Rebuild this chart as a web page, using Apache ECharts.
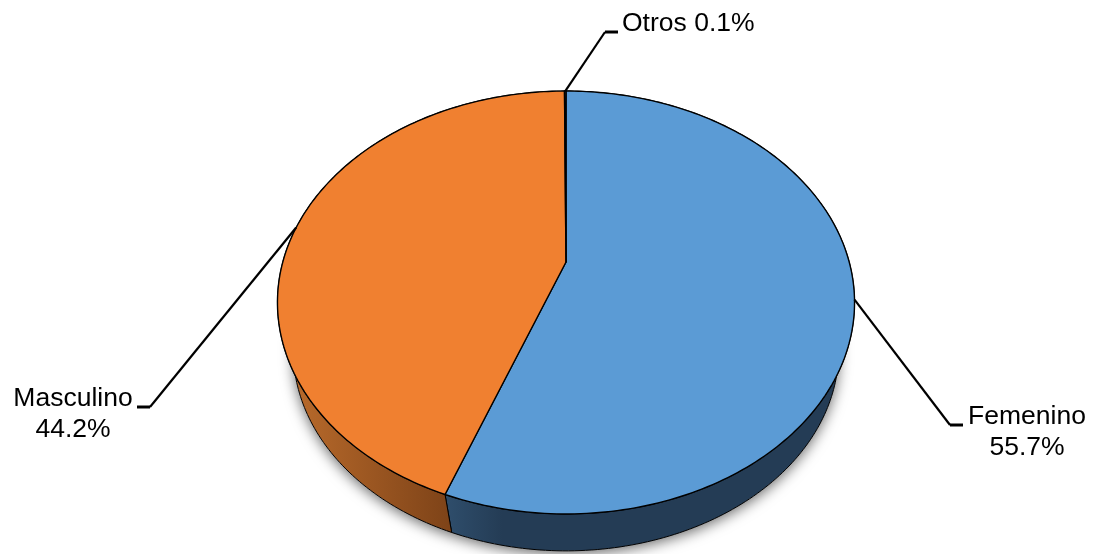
<!DOCTYPE html>
<html>
<head>
<meta charset="utf-8">
<title>Sexo</title>
<script src="https://cdn.jsdelivr.net/npm/echarts@6/dist/echarts.min.js"></script>
<style>
  html, body { margin: 0; background: #fff; }
  #chart { width: 1093px; height: 554px; }
</style>
</head>
<body>
<div id="chart"></div>
<script>
const categories = ['Femenino', 'Masculino', 'Otros']
const values = [55.7, 44.2, 0.1]

const topColors = ['#5B9BD5', '#F08030', '#A5A5A5']
const wallStops = [
    [[0, '#2F4E6C'], [0.5, '#243C55'], [1, '#243C55']],
    [[0, '#B86A2B'], [1, '#7E4318']],
    [[0, '#666666'], [1, '#666666']],
]
const wallRanges = [[445, 560], [293, 450], [560, 570]]

// label layout: elbow of the leader, end of the leader, text anchor
const labelLayout = [
    { elbow: [950, 425], end: [963, 425], text: [1027, 432.5], align: 'center', split: true },
    { elbow: [150, 407], end: [137, 407], text: [73, 414], align: 'center', split: true },
    { elbow: [605, 32], end: [618, 32], text: [622, 24], align: 'left', split: false },
]

// perspective disc: the centre of the pie is not the centre of the ellipse
const apex = [566, 262]
const discW = 283.2
const discH = 203.7
const persp = -0.1915
const wallScale = 0.945
const vanishY = 1185

function rim(deg, lower) {
    const t = deg * Math.PI / 180
    const u = Math.sin(t)
    const v = -Math.cos(t)
    const k = 1 + persp * v
    const x = apex[0] + discW * u / k
    const y = apex[1] + discH * v / k
    if (!lower) return [x, y]
    return [apex[0] + (x - apex[0]) * wallScale, vanishY + (y - vanishY) * wallScale]
}

function arc(from, to, lower) {
    const steps = Math.max(2, Math.ceil(Math.abs(to - from)))
    const pts = []
    for (let i = 0; i <= steps; i++) {
        pts.push(rim(from + (to - from) * i / steps, lower))
    }
    return pts
}

const total = values.reduce((a, b) => a + b, 0)
const spans = []
let acc = 0
values.forEach((v) => {
    spans.push([acc / total * 360, (acc + v) / total * 360])
    acc += v
})

const seriesData = values.map((v, i) => ({ name: categories[i], value: v }))

function renderWall(params) {
    const i = params.dataIndex
    const [from, to] = spans[i]
    const children = []
    if (i === 0) {
        children.push({
            type: 'polygon',
            shape: { points: arc(0, 360, true) },
            style: { fill: '#fff', shadowBlur: 14, shadowColor: 'rgba(0,0,0,0.6)', shadowOffsetY: 3 },
        })
    }
    children.push({
        type: 'polygon',
        shape: { points: arc(from, to, false).concat(arc(from, to, true).reverse()) },
        style: {
            fill: new echarts.graphic.LinearGradient(wallRanges[i][0], 0, wallRanges[i][1], 0, wallStops[i].map((s) => ({ offset: s[0], color: s[1] })), true),
            stroke: '#000',
            lineWidth: 1,
            lineJoin: 'round',
        },
    })
    return { type: 'group', children }
}

function renderTop(params) {
    const i = params.dataIndex
    const [from, to] = spans[i]
    return {
        type: 'polygon',
        shape: { points: [apex].concat(arc(from, to, false)) },
        style: { fill: topColors[i], stroke: '#000', lineWidth: 1.4, lineJoin: 'round' },
    }
}

function renderLabel(params, api) {
    const i = params.dataIndex
    const [from, to] = spans[i]
    const lay = labelLayout[i]
    const sep = lay.split ? '\n' : ' '
    return {
        type: 'group',
        children: [
            {
                type: 'line',
                shape: { x1: rim((from + to) / 2, false)[0], y1: rim((from + to) / 2, false)[1], x2: lay.elbow[0], y2: lay.elbow[1] },
                style: { stroke: '#000', lineWidth: 2.2 },
            },
            {
                type: 'line',
                shape: { x1: lay.elbow[0], y1: lay.elbow[1], x2: lay.end[0], y2: lay.end[1] },
                style: { stroke: '#000', lineWidth: 3 },
            },
            {
                type: 'text',
                style: {
                    x: lay.text[0],
                    y: lay.text[1],
                    text: categories[i] + sep + api.value(0).toFixed(1) + '%',
                    fill: '#000',
                    font: '26.5px "Liberation Sans", Arial, sans-serif',
                    lineHeight: 31,
                    align: lay.align,
                    verticalAlign: 'middle',
                },
            },
        ],
    }
}

const chart = echarts.init(document.getElementById('chart'), null, { renderer: 'canvas' })
chart.setOption({
    animation: false,
    backgroundColor: '#fff',
    tooltip: { show: false },
    series: [
        { type: 'custom', coordinateSystem: 'none', silent: true, z: 1, data: seriesData, renderItem: renderWall },
        { type: 'custom', coordinateSystem: 'none', silent: true, z: 2, data: seriesData, renderItem: renderTop },
        { type: 'custom', coordinateSystem: 'none', silent: true, z: 3, data: seriesData, renderItem: renderLabel },
    ],
})

window.addEventListener('resize', () => chart.resize())
</script>
</body>
</html>
